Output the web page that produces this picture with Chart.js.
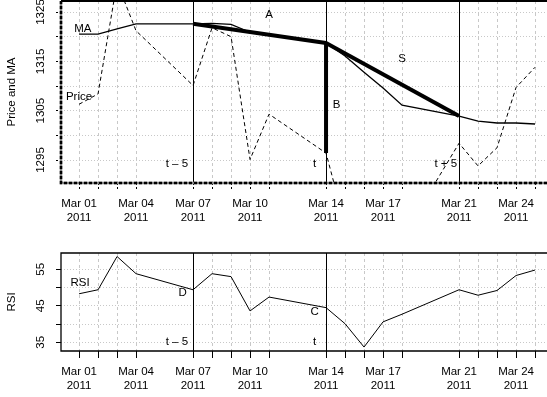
<!DOCTYPE html>
<html>
<head>
<meta charset="utf-8">
<script src="https://cdn.jsdelivr.net/npm/chart.js@4.4.1/dist/chart.umd.min.js"></script>
<style>
    html, body { margin: 0; padding: 0; background: #fff; overflow: hidden; }
    #priceChart { position: absolute; left: 0; top: 0; }
    #rsiChart { position: absolute; left: 0; top: 240px; }
</style>
</head>
<body>
<canvas id="priceChart" width="547" height="230"></canvas>
<canvas id="rsiChart" width="547" height="157"></canvas>
<script>
// Dias de negociação (março 2011)
const days = [1, 2, 3, 4, 7, 8, 9, 10, 11, 14, 15, 16, 17, 18, 21, 22, 23, 24, 25];
const price = [1306.3, 1308.4, 1331.0, 1321.2, 1310.1, 1321.8, 1320.0, 1295.1, 1304.3, 1296.4,
               1281.9, 1256.9, 1273.7, 1279.2, 1298.4, 1293.8, 1297.5, 1309.7, 1313.8];
const ma = [1320.5, 1320.5, 1321.6, 1322.6, 1322.6, 1322.7, 1322.5, 1320.9, 1320.3, 1318.7,
            1316.1, 1312.8, 1309.6, 1306.1, 1303.9, 1302.9, 1302.5, 1302.5, 1302.3];
const rsi = [48.3, 49.4, 58.5, 53.8, 49.4, 53.8, 53.0, 43.6, 47.4, 44.5,
             40.1, 33.7, 40.6, 42.7, 49.4, 47.9, 49.2, 53.3, 54.8];

const labelDays = [1, 4, 7, 10, 14, 17, 21, 24];
const priceTicks = [1295, 1300, 1305, 1310, 1315, 1320, 1325];
const priceLabels = [1295, 1305, 1315, 1325];
const rsiTicks = [35, 40, 45, 50, 55];
const rsiLabels = [35, 45, 55];

// t - 5, t, t + 5
const eventDays = [7, 14, 21];
const iT0 = days.indexOf(eventDays[0]);
const iT = days.indexOf(eventDays[1]);
const iT5 = days.indexOf(eventDays[2]);

const FONT = '"Liberation Sans", Arial, Helvetica, sans-serif';
Chart.defaults.font.family = FONT;
Chart.defaults.font.size = 11.5;
Chart.defaults.color = '#000';

const pts = (xs, ys) => xs.map((x, i) => ({ x: x, y: ys[i] }));

function xAxis(height, dottedTicks) {
    return {
        type: 'linear',
        min: 0.05,
        max: 25.63,
        afterBuildTicks: s => { s.ticks = days.map(v => ({ value: v })); },
        afterFit: s => { s.height = height; },
        ticks: {
            autoSkip: false, maxRotation: 0, minRotation: 0, padding: 7, color: '#000',
            callback: v => labelDays.includes(v) ? ['Mar ' + String(v).padStart(2, '0'), '2011'] : ''
        },
        grid: {
            color: '#c8c8c8', tickLength: 7,
            tickColor: '#000', tickBorderDash: dottedTicks ? [2, 2] : []
        },
        border: { display: false, dash: [3, 3] }
    };
}

function yAxis(min, max, tickVals, title, dottedTicks) {
    return {
        min: min,
        max: max,
        afterBuildTicks: s => { s.ticks = tickVals.map(v => ({ value: v })); },
        afterFit: s => { s.width = 61; },
        ticks: { display: false },
        grid: {
            color: '#c8c8c8', tickLength: 5,
            tickColor: '#000', tickBorderDash: dottedTicks ? [2, 2] : []
        },
        border: { display: false, dash: [1, 2] },
        title: { display: true, text: title, color: '#000', padding: { top: 5, bottom: 0 } }
    };
}

// Plugin: moldura, linhas verticais, rótulos
function decor(opts) {
    return {
        id: 'decor',
        beforeDatasetsDraw(chart) {
            const { ctx, chartArea: a, scales: { x } } = chart;
            ctx.save();
            ctx.strokeStyle = '#000';
            ctx.lineWidth = 1;
            opts.vlines.forEach(d => {
                const px = Math.round(x.getPixelForValue(d)) + 0.5;
                ctx.beginPath();
                ctx.moveTo(px, a.top);
                ctx.lineTo(px, a.bottom);
                ctx.stroke();
            });
            ctx.restore();
        },
        afterDraw(chart) {
            const { ctx, chartArea: a, scales: { x, y } } = chart;
            ctx.save();
            // moldura
            if (opts.heavyFrame) {
                ctx.lineWidth = 2.5;
                ctx.strokeStyle = '#808080';
                ctx.beginPath();
                ctx.moveTo(a.left, a.top);
                ctx.lineTo(a.left, a.bottom);
                ctx.lineTo(chart.width, a.bottom);
                ctx.stroke();
                ctx.strokeStyle = '#000';
                ctx.setLineDash([3, 2]);
                ctx.stroke();
                ctx.setLineDash([]);
                ctx.lineWidth = 2;
                ctx.beginPath();
                ctx.moveTo(a.left, a.top);
                ctx.lineTo(chart.width, a.top);
                ctx.stroke();
            } else {
                ctx.lineWidth = 1.3;
                ctx.strokeStyle = '#000';
                ctx.beginPath();
                ctx.moveTo(chart.width, a.top);
                ctx.lineTo(a.left, a.top);
                ctx.lineTo(a.left, a.bottom);
                ctx.lineTo(chart.width, a.bottom);
                ctx.stroke();
            }
            // rótulos do eixo y (verticais)
            ctx.fillStyle = '#000';
            ctx.font = '11.5px ' + FONT;
            ctx.textAlign = 'center';
            ctx.textBaseline = 'middle';
            opts.yLabels.forEach(v => {
                ctx.save();
                ctx.translate(41, y.getPixelForValue(v));
                ctx.rotate(-Math.PI / 2);
                ctx.fillText(String(v), 0, 0);
                ctx.restore();
            });
            // anotações
            opts.notes.forEach(([txt, dx, dy]) => {
                ctx.fillText(txt, x.getPixelForValue(dx), y.getPixelForValue(dy));
            });
            ctx.restore();
        }
    };
}

const lineBase = { pointRadius: 0, tension: 0, borderColor: '#000', fill: false };

const priceNotes = [
    ['MA', 1.2, 1321.6], ['Price', 1.0, 1307.9], ['A', 11.0, 1324.4],
    ['B', 14.55, 1306.1], ['S', 18.0, 1315.5],
    ['t \u2013 5', 6.15, 1294.2], ['t', 13.4, 1294.2], ['t + 5', 20.3, 1294.2]
];
const rsiNotes = [
    ['RSI', 1.05, 51.3], ['D', 6.45, 48.6], ['C', 13.4, 43.4],
    ['t \u2013 5', 6.15, 35.0], ['t', 13.4, 35.0]
];

const priceChart = new Chart(document.getElementById('priceChart'), {
    type: 'line',
    data: {
        datasets: [
            { ...lineBase, label: 'Price', data: pts(days, price), borderWidth: 1, borderDash: [4, 3] },
            { ...lineBase, label: 'MA', data: pts(days, ma), borderWidth: 1.3 },
            { ...lineBase, label: 'A', data: pts([days[iT0], days[iT]], [ma[iT0], ma[iT]]), borderWidth: 4 },
            { ...lineBase, label: 'B', data: pts([days[iT], days[iT]], [ma[iT], price[iT]]), borderWidth: 4 },
            { ...lineBase, label: 'S', data: pts([days[iT], days[iT5]], [ma[iT], ma[iT5]]), borderWidth: 4 }
        ]
    },
    options: {
        responsive: false,
        animation: false,
        devicePixelRatio: 1,
        layout: { padding: { top: 1, left: 0, right: 0, bottom: 0 } },
        plugins: { legend: { display: false }, tooltip: { enabled: false } },
        scales: {
            x: xAxis(47, true),
            y: yAxis(1290.34, 1327.23, priceTicks, 'Price and MA', true)
        }
    },
    plugins: [decor({ vlines: eventDays, yLabels: priceLabels, notes: priceNotes, heavyFrame: true })]
});

const rsiChart = new Chart(document.getElementById('rsiChart'), {
    type: 'line',
    data: {
        datasets: [
            { ...lineBase, label: 'RSI', data: pts(days, rsi), borderWidth: 1 }
        ]
    },
    options: {
        responsive: false,
        animation: false,
        devicePixelRatio: 1,
        layout: { padding: { top: 13, left: 0, right: 0, bottom: 0 } },
        plugins: { legend: { display: false }, tooltip: { enabled: false } },
        scales: {
            x: xAxis(46, false),
            y: yAxis(32.62, 59.47, rsiTicks, 'RSI', false)
        }
    },
    plugins: [decor({ vlines: eventDays.slice(0, 2), yLabels: rsiLabels, notes: rsiNotes, heavyFrame: false })]
});
</script>
</body>
</html>
